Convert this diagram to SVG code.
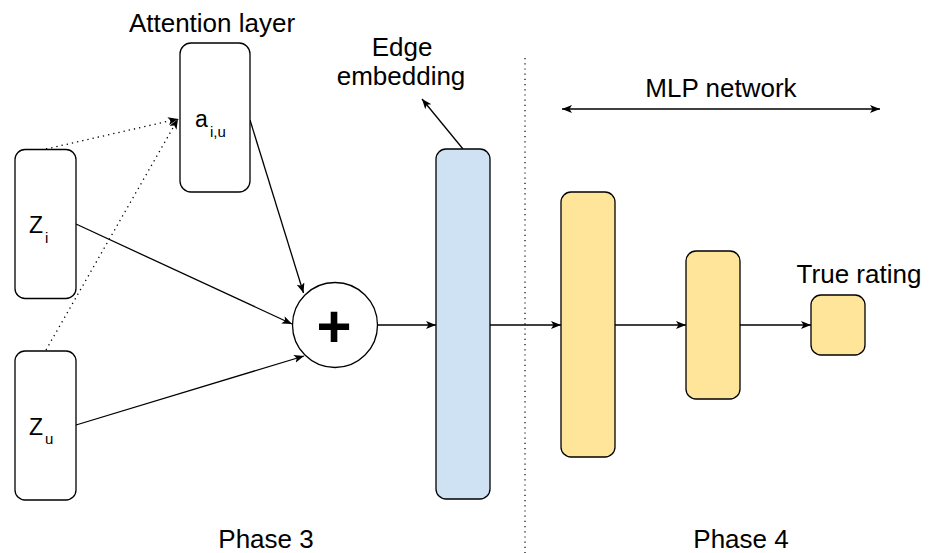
<svg xmlns="http://www.w3.org/2000/svg" width="934" height="553" viewBox="0 0 934 553">
  <defs>
    <marker id="arrow" markerUnits="userSpaceOnUse" markerWidth="12" markerHeight="10" refX="10" refY="4" orient="auto-start-reverse">
      <path d="M0,0 L10,4 L0,8 L2.5,4 z" fill="#000"/>
    </marker>
    <style>
      text { font-family: "Liberation Sans", Arial, sans-serif; fill: #000; }
      .lbl { font-size: 26px; text-anchor: middle; }
      .sym { font-size: 23px; }
      .sub { font-size: 15px; }
      .box { stroke: #000; stroke-width: 1.3; }
      .plain { fill: #fff; }
      .blue { fill: #cfe2f3; }
      .yellow { fill: #ffe599; }
      .edge { fill: none; stroke: #000; stroke-width: 1.3; }
      .dot { fill: none; stroke: #000; stroke-width: 1.3; stroke-dasharray: 1.3 4; }
    </style>
  </defs>
  <rect width="934" height="553" fill="#fff"/>

  <!-- phase separator -->
  <line x1="525" y1="58" x2="525" y2="553" stroke="#000" stroke-width="1.2" stroke-dasharray="1.2 4"/>

  <!-- connectors -->
  <g id="connectors">
    <line class="dot" x1="46" y1="149" x2="178" y2="119" marker-end="url(#arrow)"/>
    <line class="dot" x1="46" y1="350" x2="178" y2="119" marker-end="url(#arrow)"/>
    <line class="edge" x1="250" y1="120" x2="303.5" y2="293" marker-end="url(#arrow)"/>
    <line class="edge" x1="76" y1="224" x2="292" y2="324" marker-end="url(#arrow)"/>
    <line class="edge" x1="76" y1="425" x2="304" y2="356" marker-end="url(#arrow)"/>
    <line class="edge" x1="378" y1="325" x2="436" y2="325" marker-end="url(#arrow)"/>
    <line class="edge" x1="490" y1="325" x2="561" y2="325" marker-end="url(#arrow)"/>
    <line class="edge" x1="615" y1="325" x2="686" y2="325" marker-end="url(#arrow)"/>
    <line class="edge" x1="740" y1="325" x2="811" y2="325" marker-end="url(#arrow)"/>
    <line class="edge" x1="463" y1="149" x2="422" y2="99" marker-end="url(#arrow)"/>
    <line class="edge" stroke-width="2" x1="562" y1="109" x2="880" y2="109" marker-start="url(#arrow)" marker-end="url(#arrow)"/>
  </g>

  <!-- attention layer -->
  <g id="attention">
    <rect class="box plain" x="180" y="43" width="70" height="149" rx="11"/>
    <text class="sym" x="195" y="127">a</text>
    <text class="sub" x="210" y="137">i,u</text>
    <text class="lbl" x="212" y="32">Attention layer</text>
  </g>

  <!-- item embedding -->
  <g id="zi">
    <rect class="box plain" x="15" y="149.5" width="61" height="149" rx="10"/>
    <text class="sym" x="29" y="233">Z</text>
    <text class="sub" x="45" y="243">i</text>
  </g>

  <!-- user embedding -->
  <g id="zu">
    <rect class="box plain" x="15" y="351" width="61" height="149" rx="10"/>
    <text class="sym" x="29" y="435">Z</text>
    <text class="sub" x="45" y="444">u</text>
  </g>

  <!-- aggregation -->
  <g id="sum">
    <circle class="box plain" cx="335" cy="325" r="42.5"/>
    <text x="334" y="347" font-size="60" font-weight="bold" text-anchor="middle">+</text>
  </g>

  <!-- edge embedding -->
  <g id="edge-embedding">
    <rect class="box blue" x="436" y="149" width="54" height="350" rx="10"/>
    <text class="lbl" x="402" y="56">Edge</text>
    <text class="lbl" x="401" y="85">embedding</text>
  </g>

  <!-- MLP layers -->
  <g id="mlp1">
    <rect class="box yellow" x="561" y="192" width="54" height="265" rx="10"/>
  </g>
  <g id="mlp2">
    <rect class="box yellow" x="686" y="251" width="54" height="148" rx="10"/>
  </g>
  <g id="rating">
    <rect class="box yellow" x="811" y="295" width="54" height="60" rx="10"/>
    <text class="lbl" x="859" y="283">True rating</text>
  </g>
  <g id="mlp-label">
    <text class="lbl" x="721" y="97">MLP network</text>
  </g>

  <!-- phase captions -->
  <g id="phases">
    <text class="lbl" x="266" y="548">Phase 3</text>
    <text class="lbl" x="741" y="548">Phase 4</text>
  </g>
</svg>
